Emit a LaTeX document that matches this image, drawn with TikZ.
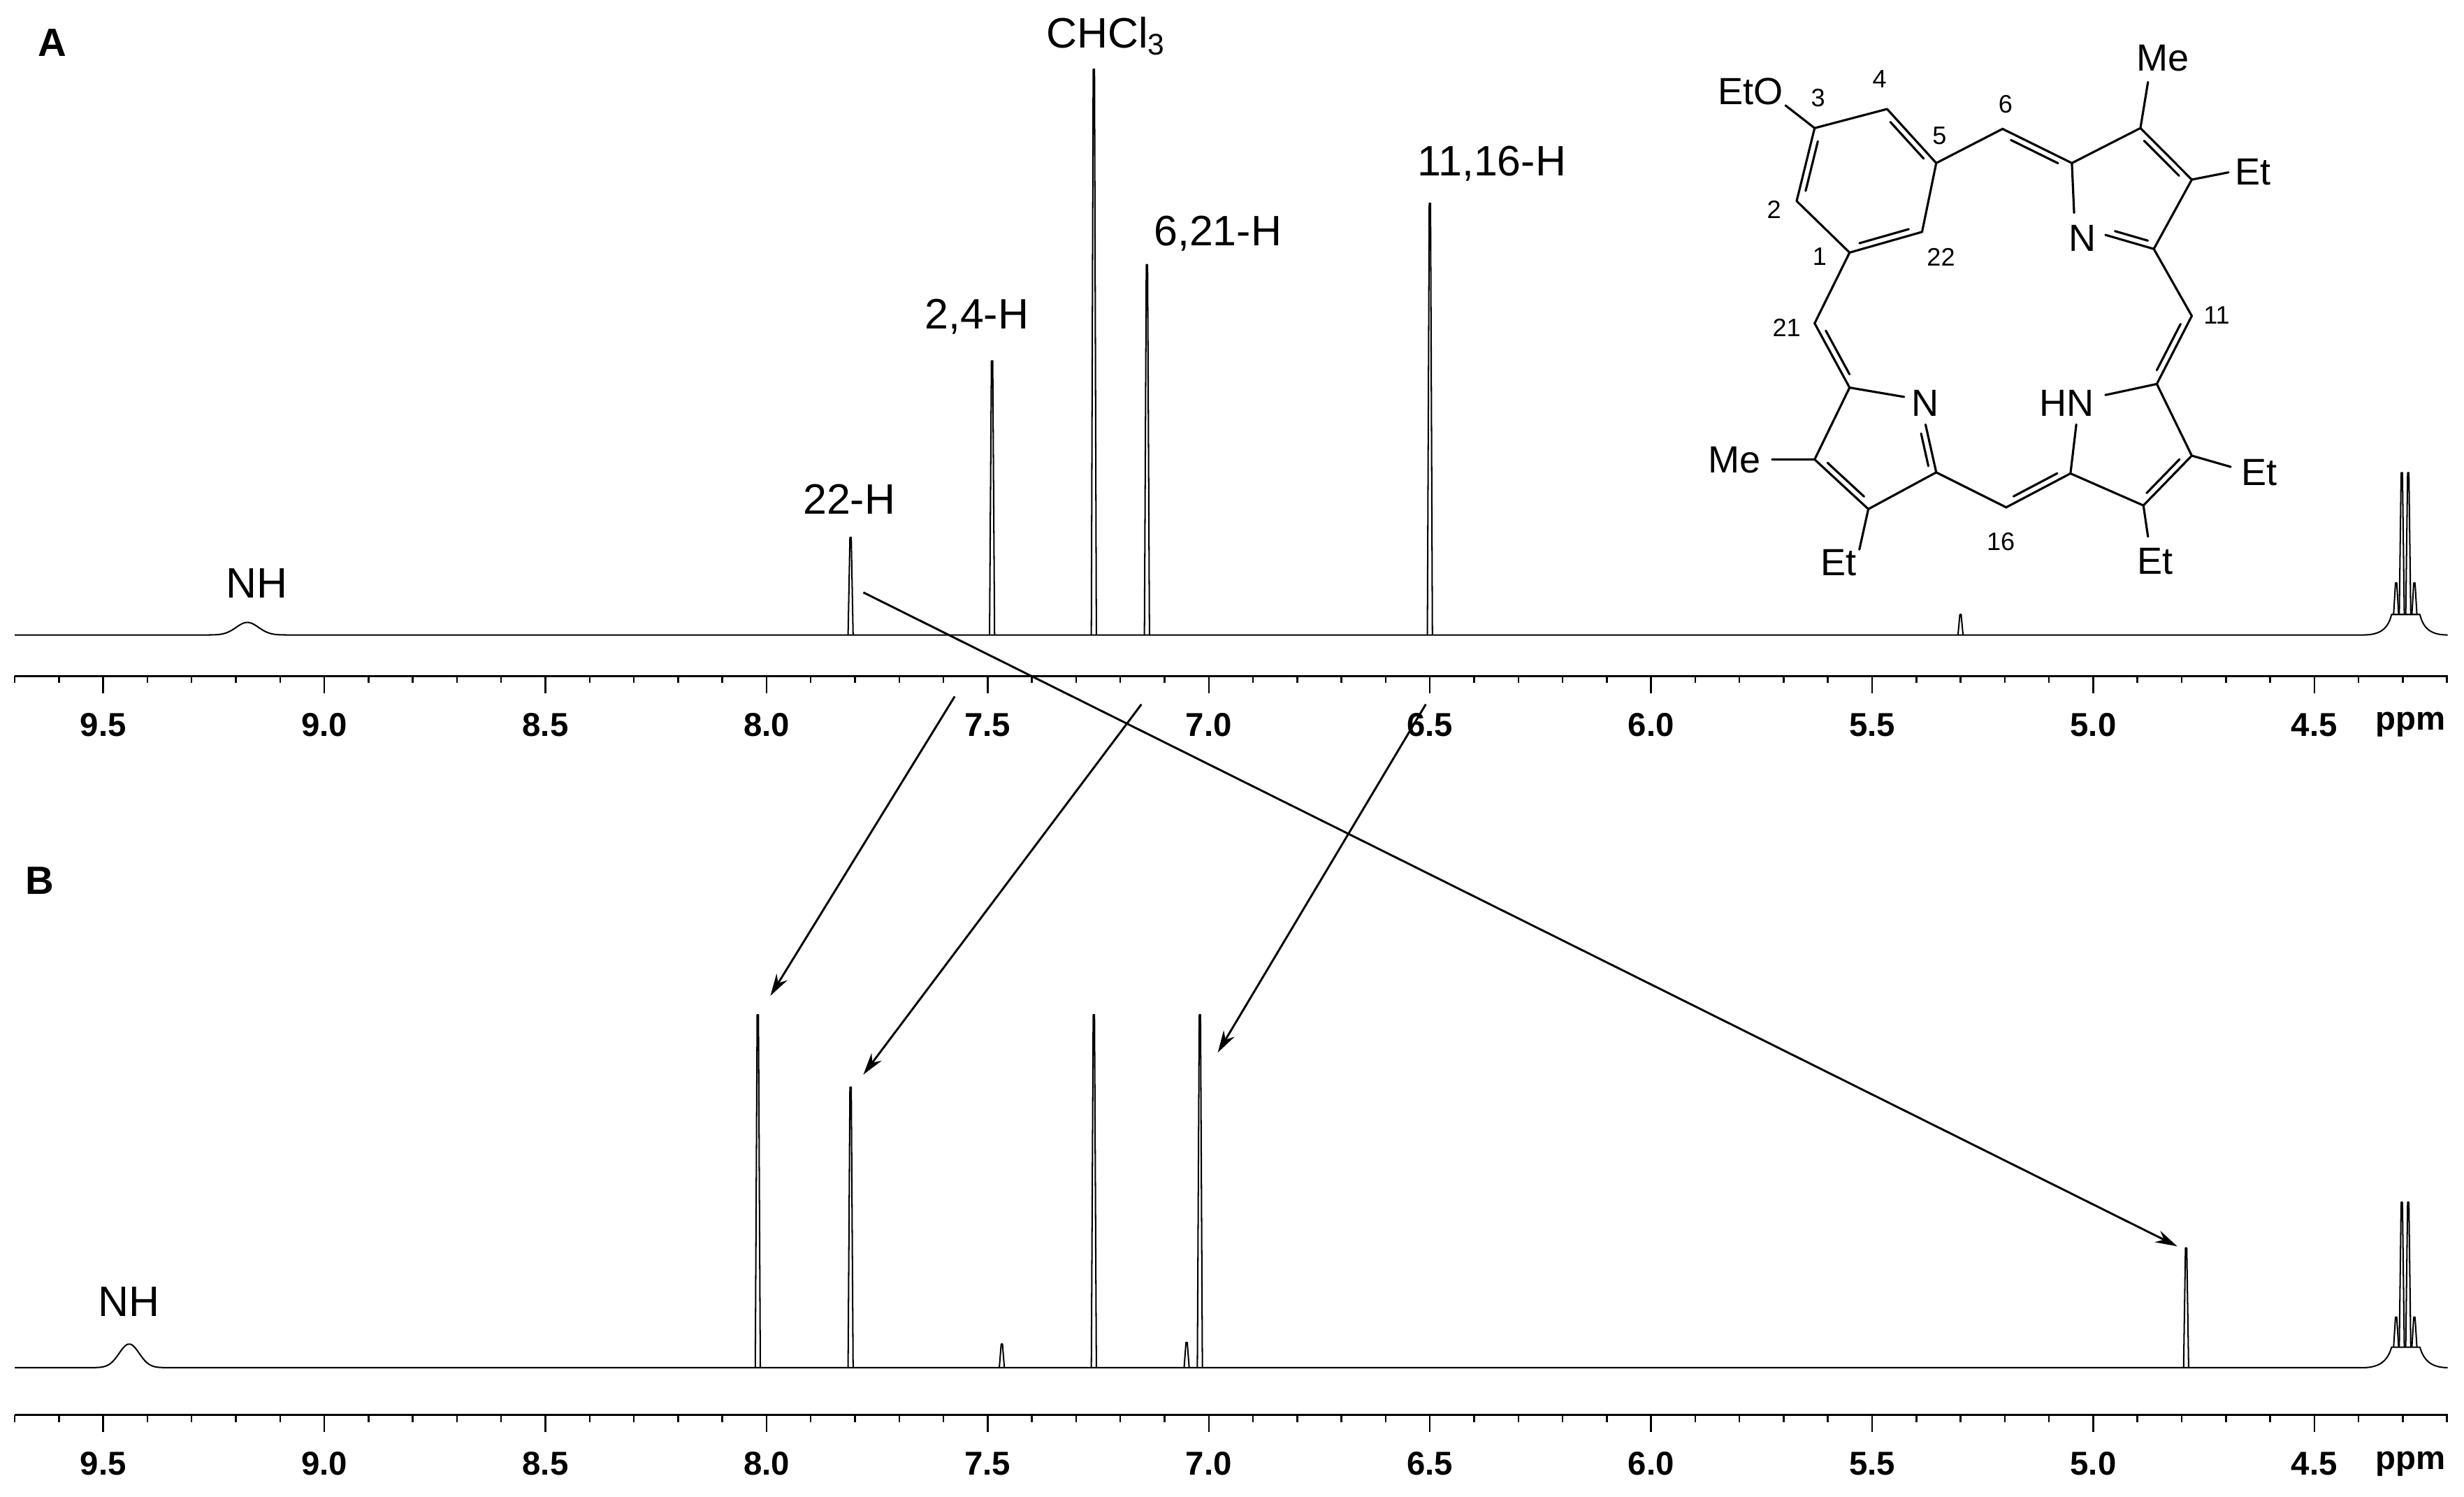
\documentclass[tikz,border=0pt]{standalone}
\usepackage{fontspec}
\setmainfont{Liberation Sans}
\usetikzlibrary{calc,arrows.meta}
\begin{document}
\begin{tikzpicture}[x=1pt,y=-1pt,
  spec/.style={line width=0.9pt,line join=round},
  axisline/.style={line width=1.4pt},
  bond/.style={line width=1.4pt,line cap=round},
  conn/.style={line width=1.3pt,-{Stealth[length=14pt,width=8pt]}},
  plbl/.style={font=\fontsize{27}{30}\selectfont,inner sep=0pt},
  albl/.style={font=\bfseries\fontsize{21}{23}\selectfont,inner sep=0pt},
  atom/.style={font=\fontsize{24}{26}\selectfont,inner sep=0pt},
  num/.style={font=\fontsize{16}{18}\selectfont,inner sep=0pt},
  panel/.style={font=\bfseries\fontsize{25}{28}\selectfont,inner sep=0pt}]
\useasboundingbox[fill=white] (0,0) rectangle (1564,950);
\newcommand\pk[3]{\draw[spec] (#1-1.6,#2) -- (#1-0.4,#3) -- (#1+0.4,#3) -- (#1+1.6,#2);}
\newcommand\db[3]{\draw[bond] ($(#1)!0.16!(#2)!#3!90:(#2)$) -- ($(#2)!0.16!(#1)!#3!-90:(#1)$);}
% ---------- axes ----------
\foreach \by/\ly [count=\k] in {429/460, 898/929}{
  \draw[axisline] (9.4,\by) -- (1553.6,\by);
  \foreach \i in {42,...,97}{\draw[line width=1.1pt] ({65.5+(95-\i)*28.07},\by) -- ++(0,4.5);}
  \foreach \i/\lab in {45/4.5,50/5.0,55/5.5,60/6.0,65/6.5,70/7.0,75/7.5,80/8.0,85/8.5,90/9.0,95/9.5}{
    \draw[line width=1.1pt] ({65.5+(95-\i)*28.07},\by) -- ++(0,11);
    \node[albl] (t\k\i) at ({65.5+(95-\i)*28.07},\ly) {\lab};}
  \node[albl] (ppm\k) at (1530,\ly) {ppm};
}
% ---------- spectrum A ----------
\draw[spec] (9.4,403) -- (100,403) plot[domain=100:230,samples=60,smooth] (\x,{403-8*exp(-((\x-157)/10)^2)}) -- (1500,403)
  .. controls (1512,403) and (1516,398) .. (1518,390) -- (1536,390) .. controls (1538,398) and (1542,403) .. (1553.6,403);
\pk{539.9}{403}{341}
\pk{629.7}{403}{229}
\pk{694.3}{403}{44}
\pk{728.0}{403}{168}
\pk{907.6}{403}{129}
\pk{1244.4}{403}{390}
\pk{1520.9}{390}{370}
\pk{1524.5}{390}{300}
\pk{1528.6}{390}{300}
\pk{1532.5}{390}{370}
\node[plbl] (lNHa) at (163,370) {NH};
\node[plbl] (l22) at (539,317) {22-H};
\node[plbl] (l24) at (620,201) {2,4-H};
\node[plbl] (lCH) at (702,23) {CHCl\textsubscript{3}};
\node[plbl] (l621) at (773,148) {6,21-H};
\node[plbl] (l1116) at (947,104) {11,16-H};
% ---------- spectrum B ----------
\draw[spec] (9.4,868) -- (40,868) plot[domain=40:130,samples=60,smooth] (\x,{868-15*exp(-((\x-82)/9)^2)}) -- (1500,868)
  .. controls (1512,868) and (1516,862) .. (1518,855) -- (1536,855) .. controls (1538,862) and (1542,868) .. (1553.6,868);
\pk{481.0}{868}{644}
\pk{539.9}{868}{690}
\pk{635.9}{868}{853}
\pk{694.3}{868}{644}
\pk{753.2}{868}{852}
\pk{761.6}{868}{644}
\pk{1387.6}{868}{792}
\pk{1520.9}{855}{836}
\pk{1524.5}{855}{763}
\pk{1528.6}{855}{763}
\pk{1532.5}{855}{836}
\node[plbl] (lNHb) at (82,826) {NH};
% ---------- panel labels ----------
\node[panel] (pA) at (33,27) {A};
\node[panel] (pB) at (25,559) {B};
% ---------- arrows ----------
\coordinate (s1) at (606,442); \coordinate (e1) at (489,632);
\coordinate (s2) at (724.5,447); \coordinate (e2) at (548,682);
\coordinate (s3) at (905,447); \coordinate (e3) at (773,668);
\coordinate (s4) at (548,376); \coordinate (e4) at (1382,791);
\foreach \n in {1,2,3,4}{\draw[conn] (s\n) -- (e\n);}
% ---------- molecule ----------
\coordinate (C3) at (1151.8,81.3); \coordinate (C4) at (1197.8,69.2);
\coordinate (C5) at (1229.0,103.5); \coordinate (C22) at (1220.0,147.2);
\coordinate (C1) at (1174.0,160.3); \coordinate (C2) at (1140.4,127.6);
\coordinate (Oe) at (1133.3,66.9);
\coordinate (C6) at (1271.1,81.8);
\coordinate (Aa) at (1315.1,103.5); \coordinate (Ab) at (1358.6,81.3);
\coordinate (Abp) at (1391.2,114.0); \coordinate (Aap) at (1367.1,158.0);
\coordinate (AN1) at (1336.4,149.1); \coordinate (AN2) at (1316.5,135.1);
\coordinate (AMe) at (1363.4,52.1); \coordinate (AEt) at (1414.5,109.4);
\coordinate (C11) at (1391.2,200.5);
\coordinate (Ca) at (1369,243.7); \coordinate (Cb) at (1391.2,289.2);
\coordinate (Cbp) at (1360.5,320.8); \coordinate (Cap) at (1314.2,300.5);
\coordinate (CN1) at (1336.4,250.7); \coordinate (CN2) at (1317.9,269.4);
\coordinate (CEt1) at (1415.9,296.3); \coordinate (CEt2) at (1363.4,340.6);
\coordinate (C16) at (1273.4,322);
\coordinate (Bap) at (1229,299.8); \coordinate (Ba) at (1174,246);
\coordinate (Bb) at (1151.8,291.6); \coordinate (Bbp) at (1185.9,323.1);
\coordinate (BN1) at (1222.2,269.4); \coordinate (BN2) at (1208.6,251.9);
\coordinate (BMe) at (1124.8,291.6); \coordinate (BEt) at (1180.2,348.8);
\coordinate (C21) at (1151.8,205.2);
\draw[bond,line join=round] (C3)--(C4)--(C5)--(C22)--(C1)--(C2)--cycle;
\draw[bond] (C3)--(Oe) (C5)--(C6)--(Aa)--(AN2) (AN1)--(Aap) (Aa)--(Ab)--(Abp)--(Aap)
  (Ab)--(AMe) (Abp)--(AEt) (Aap)--(C11)--(Ca)--(CN1) (CN2)--(Cap) (Ca)--(Cb)--(Cbp)--(Cap)
  (Cb)--(CEt1) (Cbp)--(CEt2) (Cap)--(C16)--(Bap)--(BN1) (BN2)--(Ba) (Ba)--(Bb)--(Bbp)--(Bap)
  (Bb)--(BMe) (Bbp)--(BEt) (Ba)--(C21)--(C1);
\db{C3}{C2}{4pt} \db{C4}{C5}{-4pt} \db{C1}{C22}{4pt}
\db{C6}{Aa}{-4pt} \db{Ab}{Abp}{-4pt} \db{Aap}{AN1}{-4pt}
\db{C11}{Ca}{-4pt} \db{Cb}{Cbp}{-4pt} \db{Cap}{C16}{-4pt}
\db{C21}{Ba}{4pt} \db{Bb}{Bbp}{4pt} \db{Bap}{BN1}{4pt}
\node[atom] (mEtO) at (1111,58) {EtO};
\node[atom] (mMe1) at (1373,37) {Me};
\node[atom] (mEt1) at (1430,109) {Et};
\node[atom] (mN1) at (1322,151) {N};
\node[atom] (mHN) at (1312,256) {HN};
\node[atom] (mN2) at (1222,256) {N};
\node[atom] (mMe2) at (1101,292) {Me};
\node[atom] (mEt2) at (1167,357) {Et};
\node[atom] (mEt3) at (1434,300) {Et};
\node[atom] (mEt4) at (1368,356) {Et};
\node[num] (n3) at (1154,62) {3};
\node[num] (n4) at (1193,50) {4};
\node[num] (n5) at (1231,86) {5};
\node[num] (n2) at (1126,133) {2};
\node[num] (n1) at (1155,163) {1};
\node[num] (n22) at (1232,163) {22};
\node[num] (n6) at (1273,66) {6};
\node[num] (n11) at (1407,200) {11};
\node[num] (n21) at (1134,208) {21};
\node[num] (n16) at (1270,344) {16};
\end{tikzpicture}
\end{document}
